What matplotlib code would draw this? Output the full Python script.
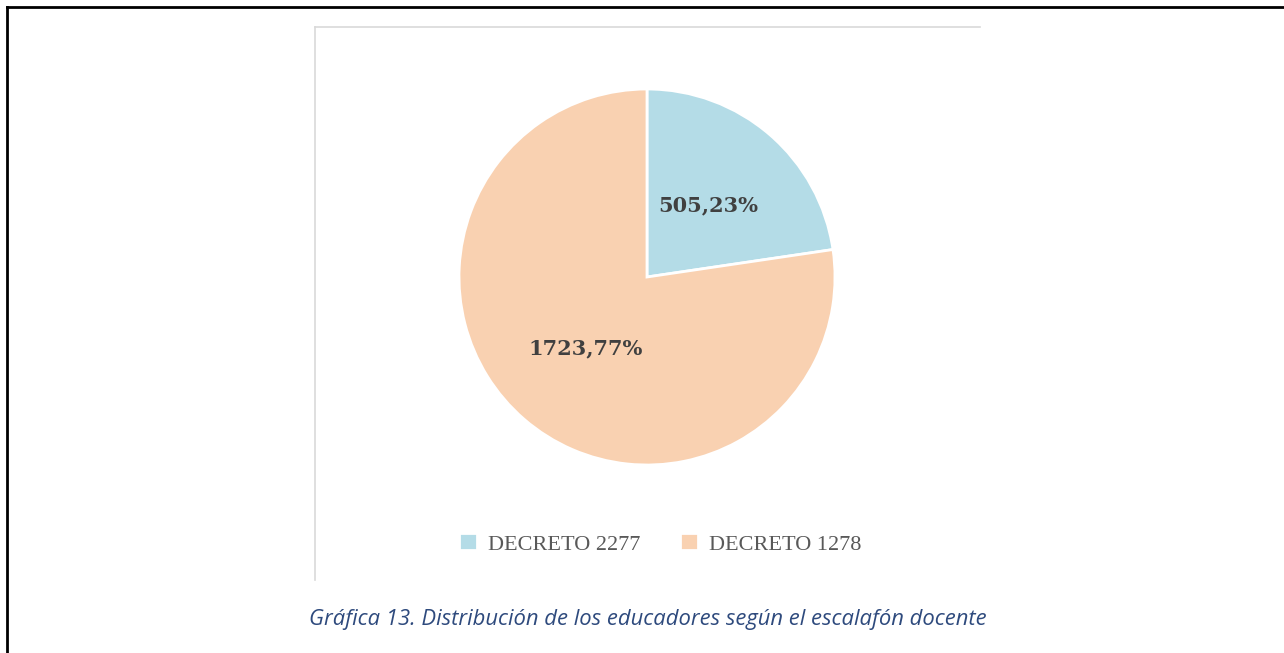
import numpy as np
import matplotlib.pyplot as plt
from matplotlib.lines import Line2D

labels = ['DECRETO 2277', 'DECRETO 1278']
values = [505, 1723]
colors = ['#b4dce7', '#f9d1b1']
caption = 'Gráfica 13. Distribución de los educadores según el escalafón docente'

W, H = 1284, 653
fig = plt.figure(figsize=(W / 100, H / 100), dpi=100)
total = sum(values)


def fmt(pct):
    val = int(round(pct * total / 100))
    return f'{val},{pct:.0f}%'


# pie centred at (647, 277) px, radius 188 px
cx, cy, r = 647, 277, 188
ax = fig.add_axes([(cx - r) / W, (H - cy - r) / H, 2 * r / W, 2 * r / H])
wedges, texts, autotexts = ax.pie(
    values, colors=colors, startangle=90, counterclock=False,
    autopct=fmt, pctdistance=0.5,
    wedgeprops=dict(edgecolor='white', linewidth=2),
    textprops=dict(family='DejaVu Serif', weight='bold', fontsize=15, color='#404040'))
ax.set_xlim(-1, 1)
ax.set_ylim(-1, 1)
ax.set_aspect('equal')

# chart frame lines (grey)
fig.add_artist(Line2D([315 / W, 980 / W], [1 - 27 / H, 1 - 27 / H], color='#d9d9d9', lw=1.2))
fig.add_artist(Line2D([315 / W, 315 / W], [1 - 27 / H, 1 - 580 / H], color='#d9d9d9', lw=1.2))

# outer black border (top and left)
fig.add_artist(Line2D([7 / W, 1], [1 - 7 / H, 1 - 7 / H], color='black', lw=2))
fig.add_artist(Line2D([7 / W, 7 / W], [1 - 7 / H, 0], color='black', lw=2))

fig.legend(wedges, labels, loc='center', bbox_to_anchor=(660 / W, 1 - 544 / H),
           ncol=2, frameon=False, handlelength=0.8, handleheight=0.8,
           handletextpad=0.5, columnspacing=1.8,
           prop=dict(family='Liberation Serif', size=16))
for t in fig.legends[0].get_texts():
    t.set_color('#595959')

fig.text(648 / W, 1 - 620 / H, caption, ha='center', va='center',
         family='Open Sans', style='italic', fontsize=15.8, color='#2e4a7d')

fig.savefig('out.png', dpi=100)
